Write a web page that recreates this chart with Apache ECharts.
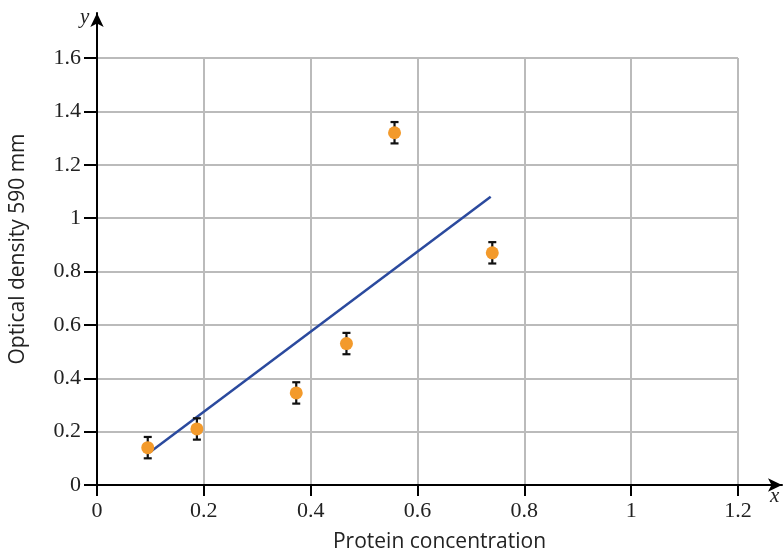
<!DOCTYPE html>
<html><head><meta charset="utf-8">
<script src="https://cdn.jsdelivr.net/npm/echarts@6/dist/echarts.min.js"></script>
<style>html,body{margin:0;padding:0;background:#fff}#c{width:784px;height:554px}</style>
</head><body><div id="c"></div>
<script>
const xTicks = [0, 0.2, 0.4, 0.6, 0.8, 1, 1.2];
const yTicks = [0, 0.2, 0.4, 0.6, 0.8, 1, 1.2, 1.4, 1.6];
const concentration = [0.095, 0.187, 0.373, 0.467, 0.557, 0.740];
const density = [0.14, 0.21, 0.345, 0.53, 1.32, 0.87];
const errors = [0.04, 0.04, 0.04, 0.04, 0.04, 0.04];
const fitX = [0.097, 0.737];
const fitY = [0.12, 1.08];

const chart = echarts.init(document.getElementById('c'));
const serif = 'Liberation Serif';
const sans = 'Open Sans';
const pts = concentration.map((x, i) => [x, density[i], errors[i]]);
const fit = fitX.map((x, i) => [x, fitY[i]]);

chart.setOption({
  animation: false,
  backgroundColor: '#fff',
  grid: [
    {left: 97, top: 58, width: 641, height: 427, containLabel: false, outerBoundsMode: 'none'},
    {left: 97, top: 13, right: 2, bottom: 69, containLabel: false, outerBoundsMode: 'none'}
  ],
  xAxis: [
    {gridIndex: 0, type: 'value', min: xTicks[0], max: xTicks[xTicks.length - 1], interval: 0.2,
     axisLine: {show: false},
     axisTick: {show: true, length: 11, lineStyle: {color: '#000', width: 2}},
     axisLabel: {fontFamily: serif, fontSize: 22, color: '#222', margin: 15},
     splitLine: {show: true, lineStyle: {color: '#bbbbbb', width: 2}}},
    {gridIndex: 1, type: 'value', min: 0, max: 1,
     axisLine: {show: true, symbol: ['none', 'arrow'], symbolSize: [10, 14], lineStyle: {color: '#000', width: 2}},
     axisTick: {show: false}, axisLabel: {show: false}, splitLine: {show: false},
     name: 'Protein concentration', nameLocation: 'middle', nameGap: 47,
     nameTextStyle: {fontFamily: sans, fontSize: 21, color: '#222'}}
  ],
  yAxis: [
    {gridIndex: 0, type: 'value', min: yTicks[0], max: yTicks[yTicks.length - 1], interval: 0.2,
     axisLine: {show: false},
     axisTick: {show: true, length: 13, lineStyle: {color: '#000', width: 2}},
     axisLabel: {fontFamily: serif, fontSize: 22, color: '#222', margin: 16},
     splitLine: {show: true, lineStyle: {color: '#bbbbbb', width: 2}}},
    {gridIndex: 1, type: 'value', min: 0, max: 1,
     axisLine: {show: true, symbol: ['none', 'arrow'], symbolSize: [10, 14], lineStyle: {color: '#000', width: 2}},
     axisTick: {show: false}, axisLabel: {show: false}, splitLine: {show: false},
     name: 'Optical density 590 mm', nameLocation: 'middle', nameGap: 68,
     nameTextStyle: {fontFamily: sans, fontSize: 21, color: '#222'}}
  ],
  graphic: [
    {type: 'text', left: 80, top: 7, style: {text: 'y', font: 'italic 21px "Liberation Serif"', fill: '#222'}},
    {type: 'text', left: 770, top: 486, style: {text: 'x', font: 'italic 21px "Liberation Serif"', fill: '#222'}}
  ],
  series: [
    {type: 'line', xAxisIndex: 0, yAxisIndex: 0, data: fit, showSymbol: false, symbol: 'none',
     lineStyle: {color: '#2b4a9e', width: 2.5}, z: 3},
    {type: 'custom', xAxisIndex: 0, yAxisIndex: 0, data: pts, z: 4,
     renderItem: function (params, api) {
       const x = api.value(0), y = api.value(1), e = api.value(2);
       const top = api.coord([x, y + e]);
       const bot = api.coord([x, y - e]);
       const w = 4;
       const st = {stroke: '#111', lineWidth: 2.2};
       return {type: 'group', children: [
         {type: 'line', shape: {x1: top[0], y1: top[1], x2: bot[0], y2: bot[1]}, style: st},
         {type: 'line', shape: {x1: top[0] - w, y1: top[1], x2: top[0] + w, y2: top[1]}, style: st},
         {type: 'line', shape: {x1: bot[0] - w, y1: bot[1], x2: bot[0] + w, y2: bot[1]}, style: st}
       ]};
     }},
    {type: 'scatter', xAxisIndex: 0, yAxisIndex: 0, data: pts.map(p => [p[0], p[1]]),
     symbolSize: 13, itemStyle: {color: '#f39a2b', opacity: 1}, z: 5}
  ]
});
</script></body></html>
